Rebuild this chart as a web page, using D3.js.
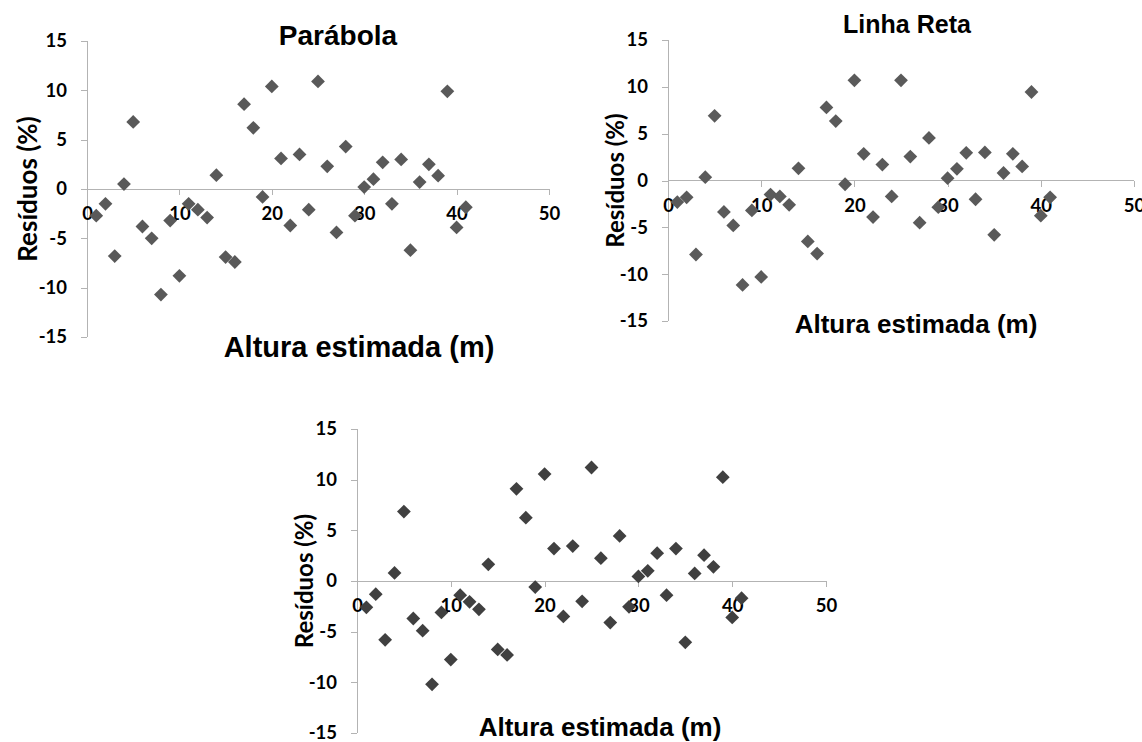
<!DOCTYPE html>
<html>
<head>
<meta charset="utf-8">
<script src="https://cdn.jsdelivr.net/npm/d3@7"></script>
<style>
  body { margin: 0; background: #fff; }
  svg { display: block; }
</style>
</head>
<body>
<div id="chart"></div>
<script>
// estimated height (m) of each tree, x axis of the three panels
var alturas = [1, 2, 3, 4, 5, 6, 7, 8, 9, 10, 11, 12, 13, 14, 15, 16, 17, 18, 19, 20,
   21, 22, 23, 24, 25, 26, 27, 28, 29, 30, 31, 32, 33, 34, 35, 36, 37, 38, 39, 40, 41];

// residuals (%)
var residuosParabola = [-2.7, -1.5, -6.8, 0.5, 6.8, -3.8, -5.0, -10.7, -3.2, -8.8,
   -1.5, -2.1, -2.9, 1.4, -6.9, -7.4, 8.6, 6.2, -0.8, 10.4,
   3.1, -3.7, 3.5, -2.1, 10.9, 2.3, -4.4, 4.3, -2.7, 0.2,
   1.0, 2.7, -1.5, 3.0, -6.2, 0.7, 2.5, 1.35, 9.9, -3.9, -1.85];

var residuosLinhaReta = [-2.3, -1.8, -7.9, 0.35, 6.9, -3.35, -4.8, -11.15, -3.2, -10.3,
   -1.5, -1.7, -2.6, 1.3, -6.5, -7.8, 7.8, 6.35, -0.4, 10.7,
   2.85, -3.9, 1.7, -1.7, 10.7, 2.55, -4.5, 4.55, -2.85, 0.25,
   1.25, 2.95, -2.0, 3.0, -5.8, 0.8, 2.85, 1.5, 9.45, -3.75, -1.8];

var residuosTerceiro = [-2.6, -1.3, -5.8, 0.8, 6.85, -3.7, -4.9, -10.2, -3.1, -7.75,
   -1.4, -2.05, -2.8, 1.65, -6.75, -7.3, 9.1, 6.25, -0.6, 10.55,
   3.2, -3.5, 3.45, -2.0, 11.2, 2.25, -4.1, 4.45, -2.55, 0.45,
   1.0, 2.75, -1.4, 3.2, -6.05, 0.75, 2.55, 1.4, 10.25, -3.6, -1.7];

// tick labels
var xTicks = [0, 10, 20, 30, 40, 50];
var yTicks = [-15, -10, -5, 0, 5, 10, 15];

var titulos = ["Parábola", "Linha Reta", ""];
var xTitulo = "Altura estimada (m)";
var yTitulo = "Resíduos (%)";

var width = 1142,
    height = 742;

var svg = d3.select("#chart")
   .append("svg")
   .attr("width", width)
   .attr("height", height);

// layout of each panel (pixel boxes of the plot area and text placement)
var paineis = [
   { valores: residuosParabola, titulo: titulos[0], cor: "#595959",
     left: 87, right: 549, top: 41, bottom: 337,
     tituloX: 338, tituloY: 45, tituloSize: 28,
     xTitX: 359, xTitY: 357, xTitSize: 29,
     yTitX: 37, yTitSize: 26 },
   { valores: residuosLinhaReta, titulo: titulos[1], cor: "#5a5a5a",
     left: 668, right: 1134, top: 40, bottom: 321,
     tituloX: 907, tituloY: 33, tituloSize: 25,
     xTitX: 916, xTitY: 333, xTitSize: 26,
     yTitX: 624, yTitSize: 24 },
   { valores: residuosTerceiro, titulo: titulos[2], cor: "#404040",
     left: 357, right: 826, top: 429, bottom: 733,
     tituloX: 0, tituloY: 0, tituloSize: 0,
     xTitX: 600, xTitY: 736, xTitSize: 26,
     yTitX: 313, yTitSize: 24 }
];

var axisColor = "#b3b3b3";
var tickFont = "Lato, 'Open Sans', sans-serif";
var titleFont = "'Liberation Sans', Arial, sans-serif";

// plain hyphen for negatives, as in the original
function fmt(d) { return String(d); }

paineis.forEach(function(p) {
   var g = svg.append("g");

   var x = d3.scaleLinear().domain([0, 50]).range([p.left, p.right]);
   var y = d3.scaleLinear().domain([-15, 15]).range([p.bottom, p.top]);

   // vertical axis with outside ticks
   var yAxis = g.append("g")
      .attr("transform", "translate(" + x(0) + ",0)")
      .call(d3.axisLeft(y).tickValues(yTicks).tickFormat(fmt).tickSize(6).tickPadding(14));
   yAxis.select(".domain").attr("stroke", axisColor).attr("d", "M0," + y(15) + "V" + y(-15));
   yAxis.selectAll(".tick line").attr("stroke", axisColor);
   yAxis.selectAll(".tick text")
      .attr("font-family", tickFont)
      .attr("font-weight", "bold")
      .attr("font-size", 18.5)
      .attr("fill", "#000");

   // horizontal axis through y = 0, ticks pointing down
   var xAxis = g.append("g")
      .attr("transform", "translate(0," + y(0) + ")")
      .call(d3.axisBottom(x).tickValues(xTicks).tickFormat(fmt).tickSize(6).tickPadding(12));
   xAxis.select(".domain").attr("stroke", axisColor).attr("d", "M" + x(0) + ",0H" + x(50));
   xAxis.selectAll(".tick line").attr("stroke", axisColor);
   xAxis.selectAll(".tick text")
      .attr("font-family", tickFont)
      .attr("font-weight", "bold")
      .attr("font-size", 18.5)
      .attr("fill", "#000");
   svg.selectAll(".domain, .tick line").attr("shape-rendering", "crispEdges");

   // diamond markers
   g.selectAll(".ponto")
      .data(p.valores)
      .enter().append("path")
      .attr("class", "ponto")
      .attr("d", d3.symbol().type(d3.symbolSquare).size(95))
      .attr("transform", function(d, i) {
         return "translate(" + x(alturas[i]) + "," + y(d) + ") rotate(45)";
      })
      .attr("fill", p.cor);

   // titles
   if (p.titulo) {
      g.append("text")
         .attr("x", p.tituloX)
         .attr("y", p.tituloY)
         .attr("text-anchor", "middle")
         .attr("font-family", titleFont)
         .attr("font-weight", "bold")
         .attr("font-size", p.tituloSize)
         .text(p.titulo);
   }

   g.append("text")
      .attr("x", p.xTitX)
      .attr("y", p.xTitY)
      .attr("text-anchor", "middle")
      .attr("font-family", titleFont)
      .attr("font-weight", "bold")
      .attr("font-size", p.xTitSize)
      .text(xTitulo);

   g.append("text")
      .attr("transform", "translate(" + p.yTitX + "," + y(0) + ") rotate(-90)")
      .attr("text-anchor", "middle")
      .attr("font-family", tickFont)
      .attr("font-weight", "bold")
      .attr("font-size", p.yTitSize)
      .text(yTitulo);
});
</script>
</body>
</html>
